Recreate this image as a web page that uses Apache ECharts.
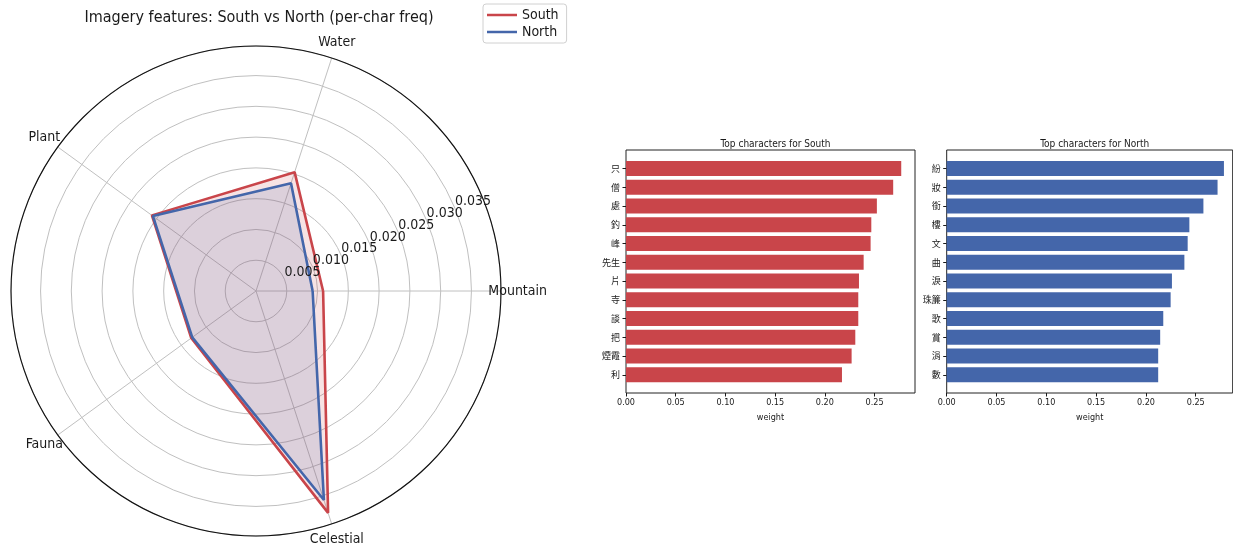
<!DOCTYPE html>
<html>
<head>
<meta charset="utf-8">
<script src="https://cdn.jsdelivr.net/npm/echarts@6/dist/echarts.min.js"></script>
<style>
  html, body { margin: 0; padding: 0; background: #fff; }
  #chart { width: 1233px; height: 546px; }
</style>
</head>
<body>
<div id="chart"></div>
<script>
// ---- data ----
const radarCategories = ['Mountain', 'Water', 'Plant', 'Fauna', 'Celestial'];
const southImagery = [0.0109, 0.0203, 0.0209, 0.0130, 0.0379];
const northImagery = [0.0092, 0.0184, 0.0207, 0.0128, 0.0357];
const radialTicks = [0.005, 0.010, 0.015, 0.020, 0.025, 0.030, 0.035];

const southChars = ['只', '僧', '處', '釣', '峰', '先生', '片', '寺', '談', '把', '煙霞', '利'];
const southWeights = [0.2768, 0.2687, 0.2523, 0.2467, 0.2460, 0.2390, 0.2343, 0.2336, 0.2336, 0.2306, 0.2269, 0.2172];
const northChars = ['紛', '妝', '銜', '樓', '文', '曲', '淚', '珠簾', '歌', '賞', '涓', '數'];
const northWeights = [0.2783, 0.2719, 0.2577, 0.2436, 0.2419, 0.2386, 0.2261, 0.2248, 0.2174, 0.2143, 0.2123, 0.2123];

// ---- styles ----
const FONT = "'Liberation Sans Narrow', 'DejaVu Sans Condensed', 'Liberation Sans', sans-serif";
const CJK = "'Noto Sans CJK TC', 'Noto Sans CJK SC', sans-serif";
const RED = '#c9454a';
const BLUE = '#4466aa';
const TXT = '#1a1a1a';

const radiusMax = 0.0398;
const step = 360 / radarCategories.length;

function closedRing(vals) {
  const pts = vals.map((v, i) => [v, i * step]);
  pts.push([vals[0], 360]);
  return pts;
}

const chart = echarts.init(document.getElementById('chart'), null, { renderer: 'canvas' });

function barPanel(idx, left, width, xMax, chars, weights, color, titleText) {
  const frameGrid = { left: left, top: 150, width: width, height: 243, show: true, borderColor: '#222', borderWidth: 1, backgroundColor: 'transparent' };
  const barGrid = { left: left, top: 159.2, width: width, height: 225 };
  return {
    grids: [frameGrid, barGrid],
    title: { text: titleText, left: left + width / 2, top: 134, textAlign: 'center', textStyle: { fontFamily: FONT, fontSize: 10, fontWeight: 'normal', color: TXT } },
    xAxes: [
      { type: 'value', gridIndex: idx * 2, min: 0, max: xMax, interval: 0.05,
        axisLine: { show: false },
        axisTick: { show: true, length: 3.5, lineStyle: { color: TXT } },
        axisLabel: { fontFamily: FONT, fontSize: 9, color: TXT, margin: 5, formatter: v => v.toFixed(2), showMaxLabel: false },
        splitLine: { show: false },
        name: 'weight', nameLocation: 'middle', nameGap: 20,
        nameTextStyle: { fontFamily: FONT, fontSize: 9, color: TXT } },
      { type: 'value', gridIndex: idx * 2 + 1, min: 0, max: xMax, show: false }
    ],
    yAxes: [
      { type: 'value', gridIndex: idx * 2, show: false },
      { type: 'category', gridIndex: idx * 2 + 1, data: chars, inverse: true,
        axisLine: { show: false },
        axisTick: { show: true, alignWithLabel: true, length: 3.5, lineStyle: { color: TXT } },
        axisLabel: { fontFamily: CJK, fontSize: 9, color: TXT, margin: 6 } }
    ],
    series: {
      type: 'bar', xAxisIndex: idx * 2 + 1, yAxisIndex: idx * 2 + 1,
      data: weights, barCategoryGap: '20%', itemStyle: { color: color }, silent: true
    }
  };
}

const sp = barPanel(0, 626, 289, Math.max(...southWeights) * 1.05, southChars, southWeights, RED, 'Top characters for South');
const np = barPanel(1, 946.7, 286, 0.2871, northChars, northWeights, BLUE, 'Top characters for North');

const labelSeries = (data, fmt, align, vAlign) => ({
  type: 'scatter', coordinateSystem: 'polar', clip: false, symbolSize: 0, silent: true, z: 5,
  itemStyle: { opacity: 1 },
  data: data,
  label: { show: true, position: [0, 0], align: align, verticalAlign: vAlign,
    formatter: fmt, fontFamily: FONT, fontSize: 14, color: TXT, opacity: 1 }
});

const option = {
  animation: false,
  backgroundColor: '#fff',
  textStyle: { fontFamily: FONT },
  title: [
    { text: 'Imagery features: South vs North (per-char freq)', left: 254, top: 5, textAlign: 'center',
      textStyle: { fontFamily: FONT, fontSize: 16, fontWeight: 'normal', color: TXT } },
    sp.title, np.title
  ],
  legend: {
    data: ['South', 'North'], orient: 'vertical', left: 483, top: 4,
    icon: 'rect', itemWidth: 30, itemHeight: 2.5, itemGap: 3,
    padding: [4, 8, 4, 4], borderColor: '#d0d0d0', borderWidth: 1, borderRadius: 3,
    textStyle: { fontFamily: FONT, fontSize: 14, color: TXT }
  },
  polar: { center: [256, 291], radius: 245 },
  angleAxis: {
    type: 'value', min: 0, max: 360, interval: step, startAngle: 0, clockwise: false,
    axisLine: { show: true, lineStyle: { color: '#111', width: 1.1 } },
    axisTick: { show: false }, axisLabel: { show: false },
    splitLine: { show: true, lineStyle: { color: '#c0c0c0', width: 1 } }
  },
  radiusAxis: {
    type: 'value', min: 0, max: radiusMax, interval: 0.005,
    axisLine: { show: false }, axisTick: { show: false }, axisLabel: { show: false },
    splitLine: { show: true, lineStyle: { color: '#c0c0c0', width: 1 } }
  },
  grid: [sp.grids[0], sp.grids[1], np.grids[0], np.grids[1]],
  xAxis: [sp.xAxes[0], sp.xAxes[1], np.xAxes[0], np.xAxes[1]],
  yAxis: [sp.yAxes[0], sp.yAxes[1], np.yAxes[0], np.yAxes[1]],
  series: [
    { name: 'South', type: 'line', coordinateSystem: 'polar', data: closedRing(southImagery),
      symbol: 'none', lineStyle: { color: RED, width: 2.6 }, itemStyle: { color: RED },
      areaStyle: { color: RED, opacity: 0.15 }, silent: true, z: 3 },
    { name: 'North', type: 'line', coordinateSystem: 'polar', data: closedRing(northImagery),
      symbol: 'none', lineStyle: { color: BLUE, width: 2.6 }, itemStyle: { color: BLUE },
      areaStyle: { color: BLUE, opacity: 0.15 }, silent: true, z: 4 },
    labelSeries(radialTicks.map(v => [v, 22.5]), p => radialTicks[p.dataIndex].toFixed(3), 'left', 'bottom'),
    labelSeries(radarCategories.map((c, i) => [radiusMax * 1.068, i * step]), p => radarCategories[p.dataIndex], 'center', 'middle'),
    sp.series, np.series
  ]
};
chart.setOption(option);
</script>
</body>
</html>
